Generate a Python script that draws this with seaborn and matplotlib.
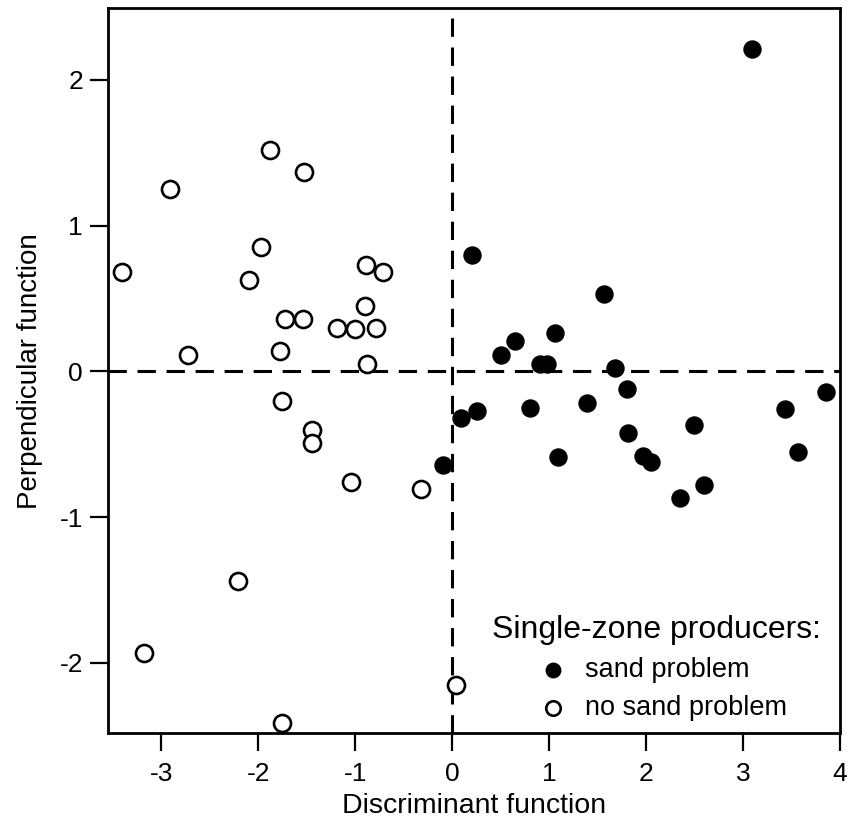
import numpy as np
import pandas as pd
import seaborn as sns
import matplotlib.pyplot as plt

# discriminant scores
sand_x = [3.09, 0.21, 1.57, 1.06, 0.65, 0.50, 0.91, 0.98, 1.68, -0.09, 0.09, 0.26,
          0.80, 1.39, 1.80, 1.81, 1.09, 1.97, 2.05, 2.50, 2.35, 2.60, 3.43, 3.57, 3.86]
sand_y = [2.21, 0.80, 0.53, 0.26, 0.21, 0.11, 0.05, 0.05, 0.02, -0.64, -0.32, -0.27,
          -0.25, -0.22, -0.12, -0.42, -0.59, -0.58, -0.62, -0.37, -0.87, -0.78, -0.26, -0.55, -0.14]

nosand_x = [-2.91, -1.88, -1.53, -3.41, -1.97, -2.09, -0.89, -0.71, -0.90, -1.72, -1.54,
            -1.19, -1.00, -0.78, -2.72, -1.78, -0.88, -1.75, -1.45, -1.45, -1.04, -0.32,
            -2.21, -3.18, 0.04, -1.75]
nosand_y = [1.25, 1.52, 1.37, 0.68, 0.85, 0.63, 0.73, 0.68, 0.45, 0.36, 0.36,
            0.30, 0.29, 0.30, 0.11, 0.14, 0.05, -0.20, -0.40, -0.49, -0.76, -0.81,
            -1.44, -1.93, -2.15, -2.41]

xticks = [-3, -2, -1, 0, 1, 2, 3, 4]
yticks = [-2, -1, 0, 1, 2]

sand = pd.DataFrame({'disc': sand_x, 'perp': sand_y})
nosand = pd.DataFrame({'disc': nosand_x, 'perp': nosand_y})

sns.set_style('ticks')
plt.rcParams['font.family'] = ['Liberation Sans', 'DejaVu Sans']
plt.rcParams['axes.unicode_minus'] = False
plt.rcParams['text.color'] = 'black'
plt.rcParams['axes.labelcolor'] = 'black'

fig = plt.figure(figsize=(8.5, 8.31), dpi=100)
ax = fig.add_axes([0.127, 0.118, 0.861, 0.872])

ax.axhline(0, color='black', lw=2.2, ls=(0, (6, 3.5)), zorder=1)
ax.axvline(0, color='black', lw=2.2, ls=(0, (6, 3.5)), zorder=1)

sns.scatterplot(data=sand, x='disc', y='perp', ax=ax, s=150, color='black',
                edgecolor='black', linewidth=1.0, label='sand problem', zorder=3)
sns.scatterplot(data=nosand, x='disc', y='perp', ax=ax, s=150, facecolor='white',
                edgecolor='black', linewidth=1.9, label='no sand problem', zorder=3)

ax.set_xlim(-3.55, 4.0)
ax.set_ylim(-2.48, 2.49)
ax.set_xticks(xticks)
ax.set_yticks(yticks)
ax.tick_params(direction='out', length=13, width=1.6, labelsize=19, colors='black', pad=5)
ax.tick_params(axis='x', pad=8)
for sp in ax.spines.values():
    sp.set_linewidth(2.0)
    sp.set_color('black')

ax.set_xlabel('Discriminant function', fontsize=20.5, labelpad=5)
ax.set_ylabel('Perpendicular function', fontsize=20, labelpad=12)

leg = ax.legend(title='Single-zone producers:', loc='lower right',
                bbox_to_anchor=(1.0, -0.01), frameon=False, fontsize=19.5,
                title_fontsize=23, handletextpad=0.2, labelspacing=0.45,
                markerscale=0.85, borderaxespad=0.3)
leg._legend_box.align = 'center'

plt.savefig('out.png', dpi=100)
